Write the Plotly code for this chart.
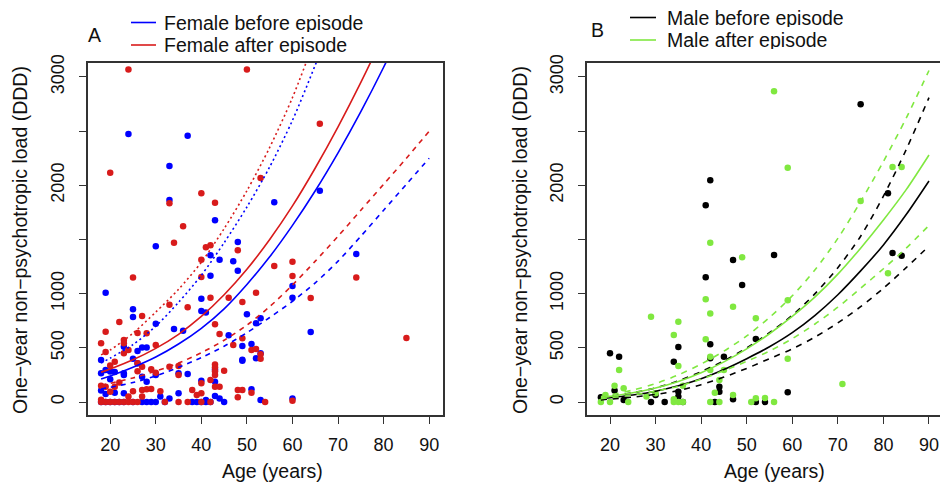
import plotly.graph_objects as go

# ---------------- data ----------------
# Panel A: female, (age, one-year load) points
female_before = [(18,388),(18,265),(18,105),(18,0),(19,1009),(19,295),(19,74),(19,0),(20,209),(20,282),(20,0),
    (21,277),(21,86),(21,0),(22,0),(23,511),(23,265),(23,249),(23,80),(23,0),(24,2474),(25,856),(25,785),(25,400),
    (25,0),(26,471),(26,357),(27,504),(27,234),(27,0),(28,504),(28,187),(28,0),(29,0),(30,723),(30,1437),(30,249),
    (30,0),(31,50),(32,0),(33,2178),(33,1865),(33,32),(34,674),(35,265),(35,80),(36,658),(37,2458),(37,258),(38,0),
    (39,0),(40,954),(40,840),(40,196),(40,0),(41,825),(41,18),(41,0),(42,1166),(42,1354),(42,0),(43,1677),(43,301),
    (43,187),(43,55),(44,1314),(44,32),(45,0),(46,615),(47,1299),(48,1477),(48,1212),(49,517),(49,390),(49,380),
    (50,809),(51,535),(51,117),(52,726),(52,403),(53,772),(53,450),(53,18),(56,1843),(60,1071),(60,963),(60,32),
    (64,646),(66,1951),(74,1366)]
female_after = [(18,542),(18,151),(18,20),(18,0),(19,649),(19,462),(19,140),(19,0),(20,2117),(20,338),(20,95),
    (20,0),(21,372),(21,140),(21,0),(22,738),(22,180),(22,0),(23,572),(23,542),(23,449),(23,0),(24,3070),(24,480),
    (24,50),(24,0),(25,1148),(25,100),(25,0),(26,637),(26,357),(26,283),(26,0),(27,794),(27,326),(27,111),(27,50),
    (28,634),(28,117),(29,302),(29,120),(30,526),(30,271),(31,100),(32,0),(33,1834),(33,898),(33,326),(34,1471),
    (35,332),(35,249),(35,0),(36,1622),(37,874),(37,0),(38,111),(39,65),(40,1926),(40,1314),(40,1154),(40,172),
    (40,80),(40,0),(41,1428),(42,1446),(42,963),(42,203),(42,0),(43,1840),(43,717),(43,345),(43,320),(43,283),
    (43,249),(43,141),(44,628),(44,141),(45,289),(46,963),(47,526),(48,1400),(48,111),(48,43),(49,923),(49,588),
    (49,111),(50,3070),(51,480),(51,86),(52,1009),(52,489),(53,2068),(53,440),(53,400),(54,0),(56,1255),(60,1295),
    (60,1163),(60,12),(64,960),(66,2569),(74,1148),(85,591)]

# Panel B: male points
male_before = [(18,43),(20,449),(21,105),(22,418),(23,18),(29,0),(30,65),(32,0),(34,372),(35,508),(35,95),(35,50),
    (36,0),(41,1151),(41,1816),(42,2046),(42,532),(42,403),(43,0),(44,141),(44,95),(45,418),(47,1311),(47,25),
    (49,1080),(52,582),(52,0),(54,0),(56,1357),(59,89),(75,2748),(81,1926),(82,1375),(84,1351)]
male_after = [(18,0),(19,65),(20,0),(21,151),(22,295),(23,126),(24,0),(28,50),(29,788),(30,80),(34,618),(34,25),
    (34,0),(35,741),(35,332),(35,0),(36,0),(36,150),(41,948),(41,579),(42,1471),(42,818),(42,418),(42,295),(42,0),
    (43,86),(44,203),(44,0),(45,295),(47,880),(47,65),(49,1336),(51,0),(52,772),(52,34),(54,37),(56,2868),(56,0),
    (59,2163),(59,939),(59,400),(71,166),(75,1855),(81,1188),(82,2169),(84,2169)]

# fitted curves and confidence bounds, read at these ages
curve_age = [18, 20, 25, 30, 35, 40, 45, 50, 55, 60, 65, 70, 75, 80, 85, 90]
female_before_fit   = [212, 240, 320, 415, 535, 680, 860, 1085, 1340, 1630, 1950, 2300, 2680, 3090, 3530, 4000]
female_before_upper = [360, 405, 530, 700, 920, 1170, 1470, 1800, 2170, 2600, 3110, 3650, 4230, 4850, 5500, 6200]
female_before_lower = [120, 135, 180, 240, 320, 410, 515, 640, 780, 930, 1100, 1300, 1530, 1770, 2010, 2250]
female_after_fit    = [275, 305, 390, 495, 625, 790, 990, 1225, 1500, 1810, 2160, 2540, 2950, 3390, 3860, 4360]
female_after_upper  = [435, 480, 635, 830, 1040, 1290, 1600, 1950, 2350, 2810, 3360, 3950, 4580, 5250, 5970, 6740]
female_after_lower  = [155, 172, 222, 285, 360, 455, 570, 710, 880, 1080, 1300, 1530, 1770, 2010, 2250, 2500]
male_before_fit     = [30, 40, 65, 100, 150, 215, 300, 400, 510, 640, 800, 990, 1210, 1450, 1730, 2040]
male_before_upper   = [40, 52, 85, 130, 195, 280, 380, 500, 640, 800, 1000, 1240, 1530, 1900, 2330, 2810]
male_before_lower   = [20, 27, 45, 70, 105, 160, 230, 310, 400, 490, 600, 730, 880, 1050, 1240, 1440]
male_after_fit      = [40, 52, 85, 130, 190, 270, 370, 490, 630, 790, 970, 1180, 1420, 1680, 1960, 2280]
male_after_upper    = [50, 65, 110, 170, 250, 350, 470, 610, 780, 980, 1220, 1510, 1850, 2220, 2620, 3060]
male_after_lower    = [30, 40, 65, 100, 145, 210, 290, 375, 470, 585, 720, 875, 1050, 1230, 1420, 1630]

x_ticks = [20, 30, 40, 50, 60, 70, 80, 90]
y_ticks = [0, 500, 1000, 1500, 2000, 2500, 3000]
y_tick_text = ["0", "500", "1000", "", "2000", "", "3000"]

legend_a = ["Female before episode", "Female after episode"]
legend_b = ["Male before episode", "Male after episode"]
y_title = "One\u2212year non\u2212psychotropic load (DDD)"
x_title = "Age (years)"

# ---------------- styling ----------------
FONT = "Liberation Sans, Arial, Helvetica, sans-serif"
BLUE, RED, BLACK, GREEN = "#0000FF", "#D81B1B", "#000000", "#80E840"
AXC = "#333333"
W, H = 940, 484
ML, MR, MT, MB = 88, 0, 63, 69
PW, PH = W - ML - MR, H - MT - MB


def px(x):
    return (x - ML) / PW


def py(y):
    return (H - MB - y) / PH


fig = go.Figure()


def points(data, color, xa, ya):
    fig.add_trace(go.Scatter(x=[a for a, _ in data], y=[v for _, v in data], mode="markers",
                             marker=dict(color=color, size=6.5, line=dict(width=0)),
                             xaxis=xa, yaxis=ya, showlegend=False, hoverinfo="skip"))


def curve(vals, color, dash, xa, ya):
    fig.add_trace(go.Scatter(x=curve_age, y=vals, mode="lines",
                             line=dict(color=color, width=1.6, dash=dash, shape="spline", smoothing=0.8),
                             xaxis=xa, yaxis=ya, showlegend=False, hoverinfo="skip"))


points(female_before, BLUE, "x", "y")
points(female_after, RED, "x", "y")
points(male_before, BLACK, "x2", "y2")
points(male_after, GREEN, "x2", "y2")

DOT, DASH, DASHB = "2px,3px", "5px,5px", "6px,6px"
curve(female_before_fit, BLUE, "solid", "x", "y")
curve(female_before_upper, BLUE, DOT, "x", "y")
curve(female_before_lower, BLUE, DASH, "x", "y")
curve(female_after_fit, RED, "solid", "x", "y")
curve(female_after_upper, RED, DOT, "x", "y")
curve(female_after_lower, RED, DASH, "x", "y")
curve(male_before_fit, BLACK, "solid", "x2", "y2")
curve(male_before_upper, BLACK, DASHB, "x2", "y2")
curve(male_before_lower, BLACK, DASHB, "x2", "y2")
curve(male_after_fit, GREEN, "solid", "x2", "y2")
curve(male_after_upper, GREEN, DASHB, "x2", "y2")
curve(male_after_lower, GREEN, DASHB, "x2", "y2")

axis_common = dict(showgrid=False, zeroline=False, showline=True, linecolor=AXC, linewidth=1.6,
                   ticks="outside", ticklen=7, tickwidth=1.4, tickcolor=AXC,
                   tickfont=dict(family=FONT, size=18, color="#111111"))
xa_common = dict(axis_common, tickvals=x_ticks, ticktext=[str(t) for t in x_ticks], ticklabelstandoff=6)
ya_common = dict(axis_common, tickvals=y_ticks, ticktext=y_tick_text, tickangle=-90,
                 range=[-120, 3129], ticklabelstandoff=8)

fig.update_layout(
    width=W, height=H, margin=dict(l=ML, r=MR, t=MT, b=MB),
    paper_bgcolor="white", plot_bgcolor="white", showlegend=False,
    xaxis=dict(xa_common, domain=[0, px(443)], range=[15.128, 15.128 + 355 / 4.557], mirror=True, anchor="y"),
    yaxis=dict(ya_common, domain=[0, 1], mirror=True, anchor="x"),
    xaxis2=dict(xa_common, domain=[px(587), 1], range=[14.953, 14.953 + 353 / 4.557], mirror=True, anchor="y2"),
    yaxis2=dict(ya_common, domain=[0, 1], mirror=False, anchor="x2"),
)

shapes, ann = [], []
tf = dict(family=FONT, size=19.5, color="#111111")


def legend(labels, colors, x0, x1, xt, ys):
    for lab, col, yy in zip(labels, colors, ys):
        shapes.append(dict(type="line", xref="paper", yref="paper", x0=px(x0), x1=px(x1), y0=py(yy), y1=py(yy),
                           line=dict(color=col, width=1.6)))
        ann.append(dict(text=lab, xref="paper", yref="paper", x=px(xt), y=py(yy), xanchor="left",
                        yanchor="middle", showarrow=False, font=tf, height=18))


legend(legend_a, [BLUE, RED], 131, 156, 162, [22.5, 45])
legend(legend_b, [BLACK, GREEN], 630, 656, 665, [17.5, 40])

for lab, cx, cy in [("A", 94, 35), ("B", 597.5, 30)]:
    ann.append(dict(text=lab, xref="paper", yref="paper", x=px(cx), y=py(cy), xanchor="center",
                    yanchor="middle", showarrow=False, font=tf))
for cx in (20, 520):
    ann.append(dict(text=y_title, xref="paper", yref="paper", x=px(cx), y=py(240), xanchor="center",
                    yanchor="middle", textangle=-90, showarrow=False, font=tf))
for cx in (272.5, 774.5):
    ann.append(dict(text=x_title, xref="paper", yref="paper", x=px(cx), y=py(471), xanchor="center",
                    yanchor="middle", showarrow=False, font=tf))

fig.update_layout(shapes=shapes, annotations=ann)
fig.write_html("out.html", config={"displayModeBar": False},
               post_script="document.body.style.margin='0';document.body.style.overflow='hidden';")
